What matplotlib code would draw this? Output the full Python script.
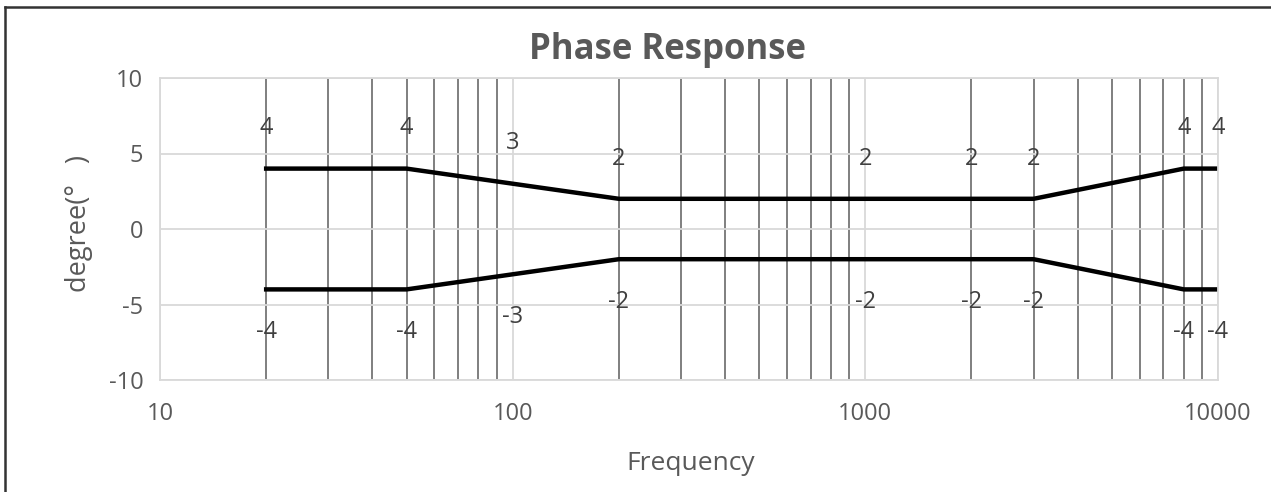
import matplotlib
matplotlib.use("Agg")
import matplotlib.pyplot as plt
from matplotlib.ticker import LogLocator, FixedLocator, NullFormatter, FixedFormatter
from matplotlib.lines import Line2D

plt.rcParams['font.family'] = ['Open Sans', 'DejaVu Sans']
plt.rcParams['axes.unicode_minus'] = False

freq = [20, 50, 100, 200, 1000, 2000, 3000, 8000, 10000]
upper = [4, 4, 3, 2, 2, 2, 2, 4, 4]
lower = [-4, -4, -3, -2, -2, -2, -2, -4, -4]
xticks = [10, 100, 1000, 10000]
xticklabels = ["10", "100", "1000", "10000"]
yticks = [-10, -5, 0, 5, 10]

TXT = "#595959"
W, H = 1271, 492
fig = plt.figure(figsize=(W / 100, H / 100), dpi=100)
ax = fig.add_axes([160 / W, 1 - 380 / H, (1218 - 160) / W, (380 - 78) / H])

ax.set_xscale("log")
ax.set_xlim(10, 10000)
ax.set_ylim(-10, 10)

ax.xaxis.set_major_locator(FixedLocator(xticks))
ax.xaxis.set_major_formatter(FixedFormatter(xticklabels))
ax.xaxis.set_minor_locator(LogLocator(base=10, subs=[2, 3, 4, 5, 6, 7, 8, 9]))
ax.xaxis.set_minor_formatter(NullFormatter())
ax.set_yticks(yticks)

ax.grid(True, which="major", axis="both", color="#d9d9d9", linewidth=1.3)
ax.grid(True, which="minor", axis="x", color="#7f7f7f", linewidth=1.4)
ax.set_axisbelow(True)
for s in ax.spines.values():
    s.set_color("#d9d9d9")
    s.set_linewidth(1.3)

ax.tick_params(axis="both", which="both", length=0, colors=TXT, labelsize=17)
ax.tick_params(axis="y", pad=12)
ax.tick_params(axis="x", pad=16)

ax.plot(freq, upper, color="black", linewidth=3.2, solid_joinstyle="miter")
ax.plot(freq, lower, color="black", linewidth=3.2, solid_joinstyle="miter")

for f, u, l in zip(freq, upper, lower):
    ax.annotate(f"{u}", (f, u), xytext=(0, 29), textcoords="offset points",
                ha="center", va="center", fontsize=17, color="#404040")
    ax.annotate(f"{l}", (f, l), xytext=(0, -31), textcoords="offset points",
                ha="center", va="center", fontsize=17, color="#404040")

fig.text(668 / W, 1 - 50 / H, "Phase Response", ha="center", va="center",
         fontsize=25, fontweight="bold", color=TXT)
fig.text(691 / W, 1 - 463 / H, "Frequency", ha="center", va="center",
         fontsize=19, color=TXT)
fig.text(79 / W, 1 - 224 / H, "degree(°   )", ha="center", va="center",
         rotation=90, fontsize=19.5, color=TXT)

# outer border (top and left edges visible)
fig.add_artist(Line2D([5 / W, 1.0], [1 - 7 / H, 1 - 7 / H], transform=fig.transFigure,
                      color="#333333", linewidth=1.8))
fig.add_artist(Line2D([5 / W, 5 / W], [0, 1 - 7 / H], transform=fig.transFigure,
                      color="#333333", linewidth=1.8))

fig.savefig("out.png", dpi=100)
